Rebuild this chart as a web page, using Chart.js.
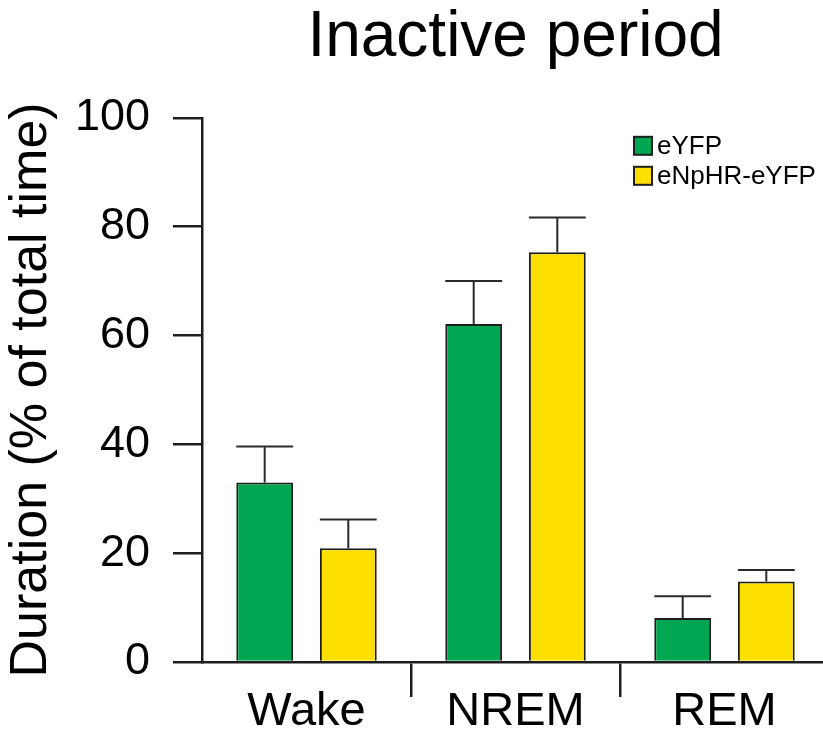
<!DOCTYPE html>
<html lang="en">
  <head>
    <meta charset="UTF-8" />
    <title>Inactive period</title>
    <script src="https://cdnjs.cloudflare.com/ajax/libs/Chart.js/4.4.1/chart.umd.min.js"></script>
    <style>
      body {
        margin: 0;
        background-color: #fff;
        overflow: hidden;
      }
      .chart-container {
        position: relative;
        width: 829px; /* chart area runs a little past the window edge */
        height: 737px;
      }
    </style>
  </head>
  <body>
    <div class="chart-container">
      <canvas id="sleepChart"></canvas>
    </div>

    <script>
      const stages = ['Wake', 'NREM', 'REM'];
      const groups = ['eYFP', 'eNpHR-eYFP'];
      const eyfpMean = [33.0, 62.1, 8.1];
      const eyfpErr = [6.6, 7.9, 4.0];
      const nphrMean = [20.9, 75.3, 14.8];
      const nphrErr = [5.3, 6.4, 2.1];
      const yTicks = [0, 20, 40, 60, 80, 100];
      const groupColors = ['#00a651', '#fde000'];

      const FONT = '"Liberation Sans", Arial, sans-serif';
      const INK = '#1e1e1e';

      // upward-only error bars, cap as wide as the bar
      const errorBars = {
        id: 'errorBars',
        afterDatasetsDraw(chart) {
          const ctx = chart.ctx;
          const yScale = chart.scales.y;
          ctx.save();
          ctx.strokeStyle = '#2a2a2a';
          ctx.lineWidth = 2;
          chart.data.datasets.forEach((ds, i) => {
            chart.getDatasetMeta(i).data.forEach((bar, j) => {
              const top = yScale.getPixelForValue(ds.data[j] + ds.errors[j]);
              const half = bar.width / 2;
              ctx.beginPath();
              ctx.moveTo(bar.x, bar.y);
              ctx.lineTo(bar.x, top);
              ctx.moveTo(bar.x - half, top);
              ctx.lineTo(bar.x + half, top);
              ctx.stroke();
            });
          });
          ctx.restore();
        }
      };

      // small boxed legend in the top-right corner of the plot
      const cornerLegend = {
        id: 'cornerLegend',
        afterDraw(chart) {
          const ctx = chart.ctx;
          const area = chart.chartArea;
          const box = 18;
          const left = area.right - 195;
          let top = area.top + 19;
          ctx.save();
          ctx.font = '26px ' + FONT;
          ctx.textBaseline = 'middle';
          ctx.textAlign = 'left';
          chart.data.datasets.forEach((ds) => {
            ctx.fillStyle = ds.backgroundColor;
            ctx.fillRect(left, top, box, box);
            ctx.strokeStyle = INK;
            ctx.lineWidth = 2;
            ctx.strokeRect(left, top, box, box);
            ctx.fillStyle = '#000';
            ctx.fillText(ds.label, left + box + 5, top + box / 2 + 1);
            top += 30;
          });
          ctx.restore();
        }
      };

      const ctxSleep = document.getElementById('sleepChart').getContext('2d');
      const sleepChart = new Chart(ctxSleep, {
        type: 'bar',
        data: {
          labels: stages,
          datasets: [
            {
              label: groups[0],
              data: eyfpMean,
              errors: eyfpErr,
              backgroundColor: groupColors[0],
              borderColor: INK,
              borderWidth: 2,
              barPercentage: 0.68,
              categoryPercentage: 0.8
            },
            {
              label: groups[1],
              data: nphrMean,
              errors: nphrErr,
              backgroundColor: groupColors[1],
              borderColor: INK,
              borderWidth: 2,
              barPercentage: 0.68,
              categoryPercentage: 0.8
            }
          ]
        },
        options: {
          responsive: true,
          maintainAspectRatio: false,
          animation: false,
          layout: { padding: 0 },
          plugins: {
            legend: { display: false },
            tooltip: { enabled: false },
            title: {
              display: true,
              text: 'Inactive period',
              fullSize: false,
              color: '#000',
              font: { family: FONT, size: 64, weight: 'normal' },
              padding: { top: 0, bottom: 41 }
            }
          },
          scales: {
            x: {
              offset: true,
              grid: {
                offset: true,
                drawOnChartArea: false,
                tickLength: 35,
                lineWidth: 2.5,
                color: (c) => (c.index === 0 || c.index === stages.length ? 'rgba(0,0,0,0)' : INK)
              },
              border: { display: true, color: INK, width: 2.5 },
              ticks: {
                color: '#000',
                padding: -13,
                font: { family: FONT, size: 47 }
              },
              afterFit: (scale) => { scale.height = 75; }
            },
            y: {
              min: 0,
              max: 100,
              afterBuildTicks: (scale) => {
                scale.ticks = yTicks.map((v) => ({ value: v }));
              },
              grid: {
                drawOnChartArea: false,
                tickLength: 29,
                lineWidth: 2.5,
                color: INK
              },
              border: { display: true, color: INK, width: 2.5 },
              ticks: {
                color: '#000',
                padding: 23,
                font: { family: FONT, size: 45 }
              },
              title: {
                display: true,
                text: 'Duration (% of total time)',
                color: '#000',
                font: { family: FONT, size: 52 },
                padding: { top: 0, bottom: 0 }
              },
              afterFit: (scale) => { scale.width = 202; }
            }
          }
        },
        plugins: [errorBars, cornerLegend]
      });
    </script>
  </body>
</html>
